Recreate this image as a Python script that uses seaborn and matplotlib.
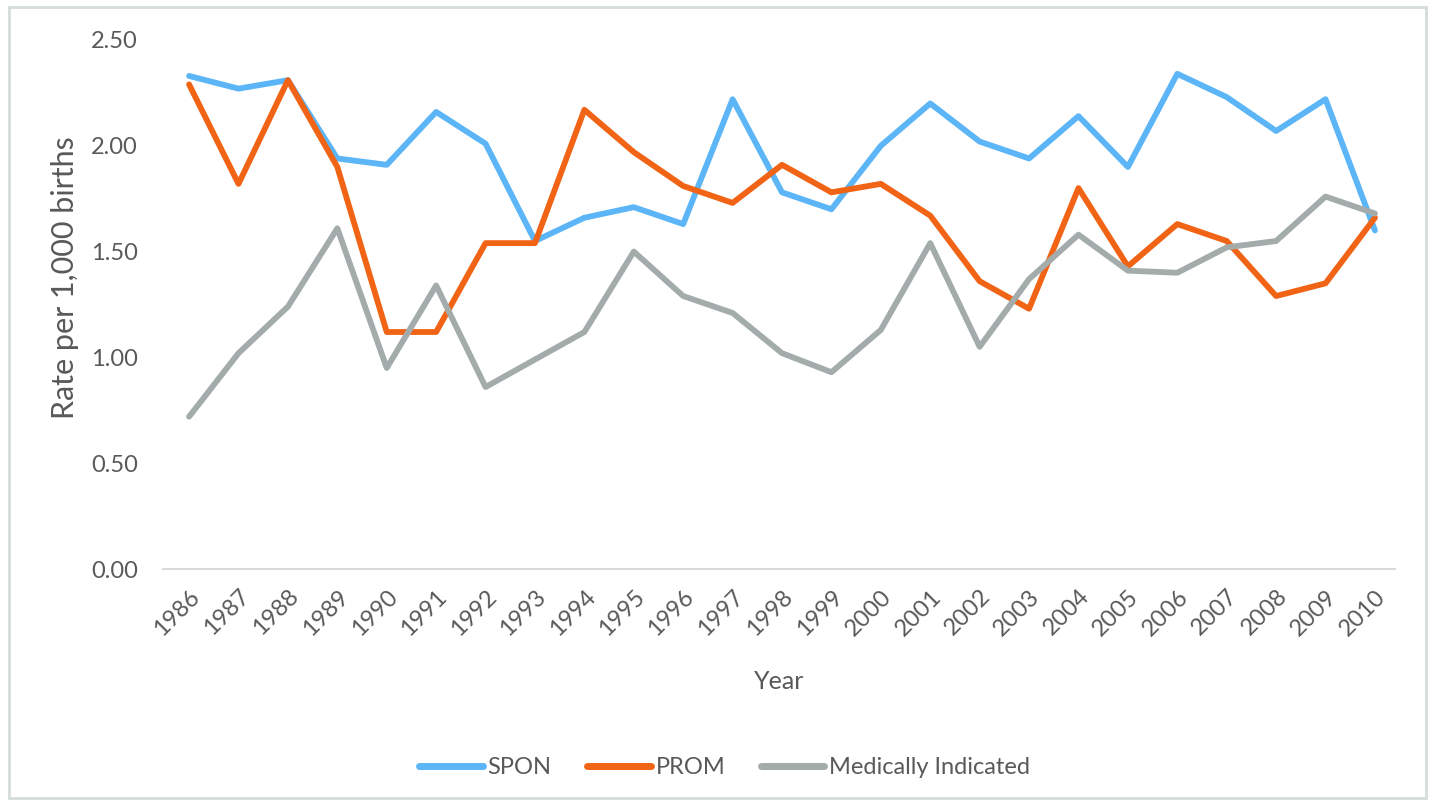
import pandas as pd
import matplotlib.pyplot as plt
import seaborn as sns
from matplotlib.patches import Rectangle

# Data
years = list(range(1986, 2011))
spon = [2.33, 2.27, 2.31, 1.94, 1.91, 2.16, 2.01, 1.55, 1.66, 1.71, 1.63, 2.22, 1.78,
        1.70, 2.00, 2.20, 2.02, 1.94, 2.14, 1.90, 2.34, 2.23, 2.07, 2.22, 1.60]
prom = [2.29, 1.82, 2.31, 1.90, 1.12, 1.12, 1.54, 1.54, 2.17, 1.97, 1.81, 1.73, 1.91,
        1.78, 1.82, 1.67, 1.36, 1.23, 1.80, 1.43, 1.63, 1.55, 1.29, 1.35, 1.66]
medical = [0.72, 1.02, 1.24, 1.61, 0.95, 1.34, 0.86, 0.99, 1.12, 1.50, 1.29, 1.21, 1.02,
           0.93, 1.13, 1.54, 1.05, 1.37, 1.58, 1.41, 1.40, 1.52, 1.55, 1.76, 1.68]
series_names = ['SPON', 'PROM', 'Medically Indicated']
colors = ['#5BB5F7', '#F26415', '#A3ACAB']
y_ticks = [0.0, 0.5, 1.0, 1.5, 2.0, 2.5]

# Long-form table for seaborn
df = pd.DataFrame({
    'Year': years * 3,
    'Rate': spon + prom + medical,
    'Series': [s for s in series_names for _ in years],
})

sns.set_style('white')
plt.rcParams['font.family'] = ['Lato', 'DejaVu Sans']
text_color = '#595959'

fig = plt.figure(figsize=(14.29, 8.01), dpi=100)
ax = fig.add_axes([0.114, 0.2896, 0.862, 0.6605])

sns.lineplot(data=df, x='Year', y='Rate', hue='Series', hue_order=series_names,
             palette=colors, linewidth=4.2, ax=ax, legend=True)

ax.set_xlim(1985.47, 2010.4)
ax.set_ylim(0, 2.5)
ax.set_yticks(y_ticks)
ax.set_yticklabels([f'{v:.2f}' for v in y_ticks])
ax.set_xticks(years)
ax.set_xticklabels([str(y) for y in years], rotation=45, ha='right',
                   rotation_mode='anchor')
ax.tick_params(axis='both', length=0, labelsize=17, colors=text_color)
ax.tick_params(axis='y', pad=18)
ax.tick_params(axis='x', pad=12)

for side in ['top', 'right', 'left']:
    ax.spines[side].set_visible(False)
ax.spines['bottom'].set_color('#D9D9D9')
ax.spines['bottom'].set_linewidth(1.5)

ax.set_xlabel('Year', fontsize=18, color=text_color)
ax.xaxis.set_label_coords(0.5, -0.19)
ax.set_ylabel('Rate per 1,000 births', fontsize=22, color=text_color)
ax.yaxis.set_label_coords(-0.068, 0.55)

ax.legend(loc='center', bbox_to_anchor=(0.456, -0.376), ncol=3, frameon=False,
          fontsize=17, handlelength=2.7, columnspacing=1.5, handletextpad=0.2,
          labelcolor=text_color)
for line in ax.get_legend().get_lines():
    line.set_linewidth(5)

# light border round the chart area
fig.patches.append(Rectangle((0.006, 0.004), 0.992, 0.987, transform=fig.transFigure,
                             fill=False, edgecolor='#D5DCDC', linewidth=2))

plt.savefig('out.png', dpi=100)
